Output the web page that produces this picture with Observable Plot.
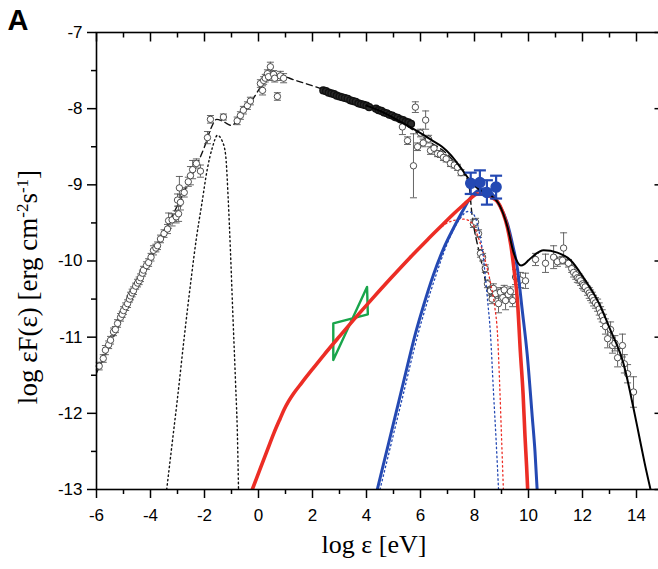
<!DOCTYPE html>
<html><head><meta charset="utf-8">
<script src="https://cdn.jsdelivr.net/npm/d3@7"></script>
<script src="https://cdn.jsdelivr.net/npm/@observablehq/plot@0.6"></script>
<style>
html,body{margin:0;padding:0;overflow:hidden;background:#fff;}
</style></head><body><div id="chart"></div>
<script>
// ---------- tick values & labels ----------
const xMajor = [-6,-4,-2,0,2,4,6,8,10,12,14];
const xMinor = [-5,-3,-1,1,3,5,7,9,11,13,15];
const yMajor = [-13,-12,-11,-10,-9,-8,-7];
const yMinor = [-12.5,-11.5,-10.5,-9.5,-8.5,-7.5];
const xTitle = "log ε [eV]";
const yTitleParts = ["log εF(ε) [erg cm", "-2", "s", "-1", "]"]; // odd entries are superscripts
const panelTag = "A";

// ---------- observed points (open circles) ----------
const obsX = [-5.9,-5.75,-5.67,-5.55,-5.48,-5.37,-5.3,-5.22,-5.11,-5.05,-5.0,-4.92,-4.85,-4.78,-4.74,-4.68,-4.63,-4.55,-4.48,-4.42,-4.37,-4.3,-4.26,-4.15,-4.07,-3.98,-3.89,-3.8,-3.74,-3.63,-3.5,-3.37,-3.33,-3.2,-3.05,-3.0,-2.96,-2.93,-2.89,-2.75,-2.6,-2.52,-2.44,-2.3,-2.15,-1.89,-1.78,-1.3,
 -0.79,-0.67,-0.56,-0.41,-0.3,0.07,0.15,0.19,0.25,0.33,0.37,0.44,0.56,0.6,0.7,0.81,0.93,
 5.33,5.52,5.74,5.81,5.89,6.0,6.1,6.19,6.3,6.37,6.5,6.63,6.74,6.85,6.95,7.11,7.25,7.37,7.5,
 7.96,8.04,8.15,8.22,8.3,8.4,8.48,
 8.59,8.65,8.7,8.78,8.89,8.96,9.05,9.1,9.15,9.25,9.33,9.41,
 9.52,9.7,9.89,
 10.26,10.63,10.93,11.07,11.26,11.3,11.48,
 11.6,11.67,11.75,11.81,11.87,11.93,12.0,12.04,12.1,12.19,12.25,12.3,12.36,12.41,12.48,12.56,12.62,12.67,12.73,12.78,12.85,12.93,13.04,13.11,13.2,13.3,13.48,13.55,13.67,13.89];
const obsY = [-11.38,-11.28,-11.17,-11.1,-11.04,-10.93,-10.9,-10.82,-10.74,-10.7,-10.65,-10.6,-10.56,-10.5,-10.46,-10.42,-10.39,-10.33,-10.29,-10.26,-10.22,-10.16,-10.12,-10.06,-10.02,-9.95,-9.86,-9.83,-9.8,-9.71,-9.64,-9.58,-9.47,-9.46,-9.42,-9.2,-9.38,-9.04,-9.23,-9.1,-8.96,-8.88,-8.8,-8.72,-8.82,-8.38,-8.14,-8.11,
 -8.16,-8.09,-8.02,-7.96,-7.9,-7.67,-7.76,-7.63,-7.6,-7.54,-7.58,-7.45,-7.55,-7.6,-7.84,-7.57,-7.6,
 -8.24,-8.42,-8.75,-7.98,-8.5,-8.32,-8.45,-8.15,-8.4,-8.55,-8.52,-8.59,-8.6,-8.64,-8.66,-8.72,-8.74,-8.77,-8.84,
 -9.51,-9.49,-9.64,-9.9,-9.95,-10.1,-10.3,
 -10.39,-10.5,-10.36,-10.43,-10.56,-10.41,-10.48,-10.38,-10.52,-10.44,-10.4,-10.52,
 -10.21,-10.25,-10.26,
 -9.98,-10.03,-9.95,-10.01,-9.99,-9.83,-10.03,
 -10.1,-10.15,-10.18,-10.22,-10.23,-10.26,-10.3,-10.32,-10.34,-10.39,-10.42,-10.45,-10.48,-10.52,-10.55,-10.58,-10.63,-10.68,-10.72,-10.78,-10.86,-11.02,-10.9,-11.11,-11.08,-11.27,-11.11,-11.35,-11.48,-11.72];
const obsErr = [0.05,0.05,0.06,0.05,0.05,0.05,0.04,0.05,0.05,0.04,0.05,0.05,0.05,0.04,0.05,0.05,0.05,0.04,0.05,0.05,0.05,0.04,0.05,0.05,0.05,0.05,0.06,0.05,0.05,0.05,0.05,0.06,0.1,0.08,0.08,0.08,0.1,0.15,0.1,0.06,0.06,0.12,0.12,0.06,0.08,0.08,0.05,0.04,
 0.05,0.05,0.05,0.05,0.05,0.05,0.06,0.05,0.05,0.05,0.05,0.06,0.05,0.05,0.05,0.06,0.06,
 0.1,0.05,0.42,0.07,0.05,0.05,0.05,0.12,0.05,0.05,0.04,0.04,0.04,0.04,0.04,0.04,0.04,0.04,0.04,
 0.05,0.05,0.05,0.05,0.05,0.05,0.05,
 0.06,0.06,0.06,0.06,0.12,0.06,0.06,0.06,0.12,0.06,0.06,0.08,
 0.1,0.1,0.1,
 0.08,0.12,0.15,0.06,0.05,0.2,0.05,
 0.05,0.06,0.06,0.06,0.06,0.06,0.06,0.06,0.06,0.06,0.07,0.07,0.07,0.07,0.07,0.08,0.08,0.08,0.08,0.08,0.1,0.12,0.1,0.1,0.1,0.12,0.15,0.12,0.12,0.2];

// dense X-ray band
const xrayX = [2.4,2.5,2.6,2.7,2.8,2.9,3.0,3.1,3.2,3.3,3.4,3.5,3.6,3.7,3.8,3.9,4.0,4.1,4.35,4.45,4.55,4.65,4.75,4.85,4.95,5.05,5.15,5.25,5.35,5.45,5.55,5.65];
const xrayY = [-7.76,-7.77,-7.79,-7.8,-7.81,-7.83,-7.84,-7.85,-7.86,-7.87,-7.89,-7.9,-7.91,-7.93,-7.94,-7.95,-7.96,-7.98,-8.0,-8.02,-8.03,-8.05,-8.06,-8.08,-8.09,-8.11,-8.12,-8.14,-8.15,-8.17,-8.18,-8.2];

// blue filled points
const gevX = [7.86,8.2,8.46,8.8];
const gevY = [-8.98,-8.97,-9.1,-9.03];
const gevErr = [0.14,0.16,0.16,0.15];

// ---------- model curves ----------
const syncX = [-6,-5,-4,-3,-2.5,-2.0,-1.75,-1.55,-1.3,-1.0,-0.6,-0.2,0.1,0.4,0.8,1.3,2.4,3.0,4.0,5.0,5.6,6.4,7.0,7.48,7.78,7.91,8.1,8.22,8.4,8.6];
const syncY = [-11.47,-10.72,-9.98,-9.27,-8.9,-8.5,-8.25,-8.14,-8.17,-8.22,-8.05,-7.87,-7.7,-7.55,-7.56,-7.62,-7.75,-7.84,-7.97,-8.12,-8.25,-8.45,-8.6,-8.81,-8.97,-9.4,-9.77,-9.95,-10.25,-10.5];

const thermX = [-3.4,-3.2,-3.0,-2.75,-2.5,-2.3,-2.1,-1.9,-1.7,-1.52,-1.35,-1.22,-1.12,-1.04,-0.95,-0.85,-0.78,-0.74];
const thermY = [-13,-12.4,-11.8,-11.0,-10.25,-9.7,-9.25,-8.8,-8.5,-8.35,-8.42,-8.6,-9.2,-9.86,-10.7,-11.6,-12.3,-13];

const totalX = [4.0,4.5,5.0,5.5,6.0,6.4,6.8,7.1,7.48,7.85,8.2,8.6,8.9,9.22,9.44,9.6,9.72,9.85,10.0,10.19,10.56,11.07,11.56,12.04,12.56,13.04,13.52,13.87,14.1,14.3,14.52];
const totalY = [-7.96,-8.03,-8.12,-8.22,-8.32,-8.41,-8.5,-8.6,-8.77,-8.95,-9.07,-9.14,-9.25,-9.55,-9.88,-10.02,-10.06,-10.04,-9.99,-9.93,-9.86,-9.89,-9.99,-10.22,-10.52,-10.91,-11.35,-11.9,-12.3,-12.65,-13];

const redX = [-0.23,0.05,0.32,0.57,0.8,0.95,1.1,1.3,1.6,2.0,2.42,3.0,3.53,4.2,4.89,5.6,6.26,6.8,7.23,7.6,7.85,8.1,8.4,8.65,8.85,9.05,9.22,9.35,9.46,9.59,9.7,9.8,9.87,9.93,9.97];
const redY = [-13,-12.74,-12.49,-12.26,-12.07,-11.95,-11.85,-11.74,-11.6,-11.42,-11.235,-10.99,-10.77,-10.5,-10.23,-9.96,-9.72,-9.53,-9.38,-9.26,-9.18,-9.12,-9.12,-9.17,-9.22,-9.36,-9.56,-9.8,-10.1,-10.52,-11.2,-11.75,-12.3,-12.7,-13];

const blueX = [4.4,4.8,5.2,5.5,5.8,6.1,6.48,6.85,7.22,7.55,7.85,8.1,8.35,8.6,8.9,9.22,9.42,9.59,9.76,9.95,10.14,10.24,10.32];
const blueY = [-13,-12.42,-11.84,-11.4,-10.97,-10.6,-10.18,-9.84,-9.57,-9.35,-9.17,-9.08,-9.05,-9.1,-9.25,-9.51,-9.8,-10.1,-10.62,-11.22,-12.05,-12.5,-13];

const redDotX = [5.6,6.3,6.74,7.2,7.6,7.9,8.15,8.4,8.6,8.75,8.85,8.93,9.0,9.07];
const redDotY = [-9.96,-9.7,-9.56,-9.47,-9.45,-9.5,-9.7,-10.0,-10.3,-10.6,-10.95,-11.6,-12.3,-13];

const blueDotX = [4.5,4.9,5.3,5.9,6.58,7.05,7.45,7.75,7.95,8.15,8.3,8.48,8.59,8.7,8.8,8.89];
const blueDotY = [-13,-12.42,-11.84,-10.97,-10.18,-9.72,-9.45,-9.35,-9.38,-9.58,-9.88,-10.5,-10.95,-11.7,-12.35,-13];

// Fermi-LAT-like bowtie
const bowX = [2.77,4.05,4.02,2.77,2.77];
const bowY = [-10.82,-10.70,-10.34,-11.30,-10.82];

// ---------- build tables ----------
const zip = (xs, ys) => xs.map((x, i) => ({x, y: ys[i]}));
const obs = obsX.map((x, i) => ({x, y: obsY[i], e: obsErr[i]}));
const xray = zip(xrayX, xrayY);
const gev = gevX.map((x, i) => ({x, y: gevY[i], e: gevErr[i]}));

const RED = "#ec2d25", BLUE = "#2449b3", GREEN = "#19a54b", PT = "#3c3c3c";
const cap = w => ({draw(ctx){ ctx.moveTo(-w/2, 0); ctx.lineTo(w/2, 0); }});
const vtick = len => ({draw(ctx){ ctx.moveTo(0, 0); ctx.lineTo(0, len); }});   // downward (inward from top)
const htick = len => ({draw(ctx){ ctx.moveTo(0, 0); ctx.lineTo(-len, 0); }});  // leftward (inward from right)
const serif = "'Liberation Serif','Times New Roman',serif";
const sans = "'Liberation Sans',Arial,sans-serif";

const svg = Plot.plot({
  width: 658, height: 569,
  marginLeft: 96, marginRight: -5, marginTop: 32, marginBottom: 80,
  style: {fontFamily: sans, fontSize: "17px", color: "black", background: "white"},
  x: {domain: [-6, 15]},
  y: {domain: [-13, -7]},
  marks: [
    // model components
    Plot.line(zip(thermX, thermY), {x: "x", y: "y", stroke: "#111", strokeWidth: 1.4, strokeDasharray: "1.4,3", curve: "monotone-x", clip: true}),
    Plot.line(zip(syncX, syncY), {x: "x", y: "y", stroke: "#111", strokeWidth: 1.4, strokeDasharray: "6,4", curve: "monotone-x", clip: true}),
    // data error bars
    Plot.ruleX(obs, {x: "x", y1: d => d.y - d.e, y2: d => d.y + d.e, stroke: "#555", strokeWidth: 0.9}),
    Plot.dot(obs, {x: "x", y: d => d.y - d.e, symbol: cap(7), stroke: "#555", strokeWidth: 0.9, fill: "none"}),
    Plot.dot(obs, {x: "x", y: d => d.y + d.e, symbol: cap(7), stroke: "#555", strokeWidth: 0.9, fill: "none"}),
    Plot.dot(xray, {x: "x", y: "y", r: 3.4, stroke: "#111", strokeWidth: 1.4, fill: "#2a2a2a"}),
    Plot.dot(obs, {x: "x", y: "y", r: 3.2, stroke: PT, strokeWidth: 0.9, fill: "white"}),
    // other components
    Plot.line(zip(bowX, bowY), {x: "x", y: "y", stroke: GREEN, strokeWidth: 2.4, curve: "linear"}),
    Plot.line(zip(redDotX, redDotY), {x: "x", y: "y", stroke: RED, strokeWidth: 1.3, strokeDasharray: "1.5,3", curve: "monotone-x", clip: true}),
    Plot.line(zip(blueDotX, blueDotY), {x: "x", y: "y", stroke: BLUE, strokeWidth: 1.3, strokeDasharray: "1.5,3", curve: "monotone-x", clip: true}),
    Plot.line(zip(blueX, blueY), {x: "x", y: "y", stroke: BLUE, strokeWidth: 3, curve: "monotone-x", clip: true}),
    Plot.line(zip(redX, redY), {x: "x", y: "y", stroke: RED, strokeWidth: 3.6, curve: "monotone-x", clip: true}),
    Plot.line(zip(totalX, totalY), {x: "x", y: "y", stroke: "#000", strokeWidth: 2, curve: "monotone-x", clip: true}),
    // blue points
    Plot.ruleX(gev, {x: "x", y1: d => d.y - d.e, y2: d => d.y + d.e, stroke: BLUE, strokeWidth: 2.2}),
    Plot.dot(gev, {x: "x", y: d => d.y - d.e, symbol: cap(12), stroke: BLUE, strokeWidth: 2.2, fill: "none"}),
    Plot.dot(gev, {x: "x", y: d => d.y + d.e, symbol: cap(12), stroke: BLUE, strokeWidth: 2.2, fill: "none"}),
    Plot.dot(gev, {x: "x", y: "y", r: 5, fill: BLUE, stroke: BLUE}),
    // frame & axes
    Plot.frame({stroke: "black", strokeWidth: 1.6}),
    Plot.axisY({ticks: yMajor, tickSize: 9, tickPadding: 5, tickFormat: d => String(d), label: null, fontSize: 17, strokeWidth: 1.5}),
    Plot.axisY({ticks: yMinor, tickSize: 5, tickFormat: () => "", label: null, strokeWidth: 1.5}),
    Plot.axisX({ticks: xMajor, tickSize: 9, tickPadding: 10, tickFormat: d => String(d), label: null, fontSize: 17, strokeWidth: 1.5}),
    Plot.axisX({ticks: xMinor, tickSize: 5, tickFormat: () => "", label: null, strokeWidth: 1.5}),
    // inward mirror ticks on top and right
    Plot.dot(xMajor, {x: d => d, frameAnchor: "top", symbol: vtick(9), stroke: "black", strokeWidth: 1.5, fill: "none"}),
    Plot.dot(xMinor, {x: d => d, frameAnchor: "top", symbol: vtick(5), stroke: "black", strokeWidth: 1.5, fill: "none"}),
    Plot.dot(yMajor, {y: d => d, frameAnchor: "right", symbol: htick(9), stroke: "black", strokeWidth: 1.5, fill: "none"}),
    Plot.dot(yMinor, {y: d => d, frameAnchor: "right", symbol: htick(5), stroke: "black", strokeWidth: 1.5, fill: "none"})
  ]
});

// titles and panel tag as real SVG text
const root = d3.select(svg);
root.append("text").attr("transform", "translate(374,553)").attr("text-anchor", "middle")
  .attr("font-family", serif).attr("font-size", 26).attr("fill", "black").text(xTitle);
const yt = root.append("text").attr("transform", "translate(37,287) rotate(-90)").attr("text-anchor", "middle")
  .attr("font-family", serif).attr("font-size", 27).attr("fill", "black");
yTitleParts.forEach((s, i) => {
  const ts = yt.append("tspan").text(s);
  if (i % 2 === 1) ts.attr("baseline-shift", "super").attr("font-size", 17);
});
root.append("text").attr("x", 18).attr("y", 30).attr("font-family", sans).attr("font-weight", "bold")
  .attr("font-size", 29).attr("fill", "black").text(panelTag);

document.getElementById("chart").appendChild(svg);
</script>
</body></html>
